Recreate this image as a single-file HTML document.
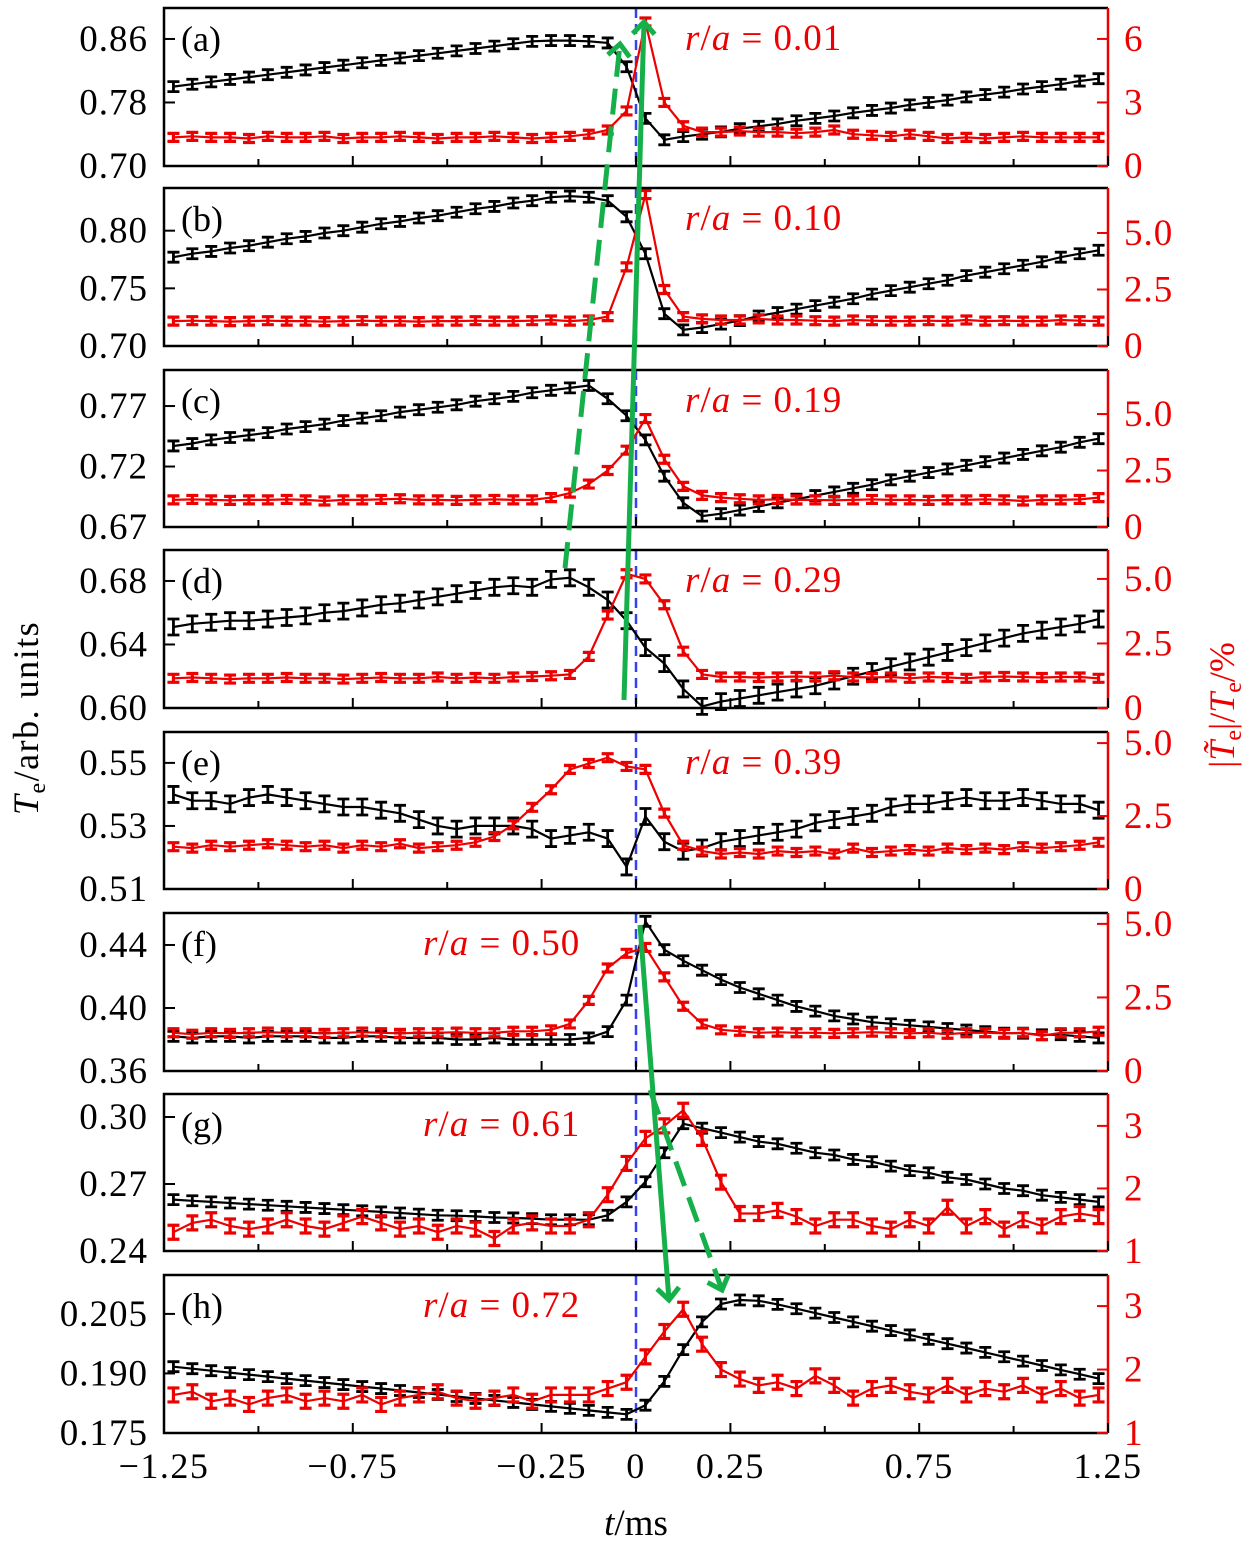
<!DOCTYPE html>
<html><head><meta charset="utf-8"><style>
body{margin:0;background:#fff}
svg text{font-family:"Liberation Serif","DejaVu Serif",serif}
</style></head><body>
<svg id="chart" width="1260" height="1551" xmlns="http://www.w3.org/2000/svg">
<g id="plots"></g>
<g id="annot">
<defs>
<marker id="ah" markerWidth="30" markerHeight="30" refX="16" refY="15" orient="auto" markerUnits="userSpaceOnUse"><path d="M4,4 L16,15 L4,26" fill="none" stroke="#16b04a" stroke-width="5"/></marker>
</defs>
<line x1="565" y1="568" x2="620" y2="44" stroke="#16b04a" stroke-width="5" stroke-dasharray="26,12" marker-end="url(#ah)"/>
<line x1="624" y1="700" x2="644" y2="22" stroke="#16b04a" stroke-width="5" marker-end="url(#ah)"/>
<line x1="640" y1="925" x2="669" y2="1300" stroke="#16b04a" stroke-width="5" marker-end="url(#ah)"/>
<line x1="650" y1="1090" x2="722" y2="1290" stroke="#16b04a" stroke-width="5" stroke-dasharray="26,12" marker-end="url(#ah)"/>
</g>
<text x="38" y="718" font-size="36" letter-spacing="1.5" text-anchor="middle" transform="rotate(-90 38 718)"><tspan font-style="italic">T</tspan><tspan font-size="24" dy="7">e</tspan><tspan dy="-7">/arb. units</tspan></text>
<text x="1234" y="705" font-size="36" fill="#e00" text-anchor="middle" transform="rotate(-90 1234 705)">|<tspan font-style="italic">T̃</tspan><tspan font-size="24" dy="7">e</tspan><tspan dy="-7">|/</tspan><tspan font-style="italic">T</tspan><tspan font-size="24" dy="7">e</tspan><tspan dy="-7">/%</tspan></text>
<text x="636" y="1535" font-size="37" text-anchor="middle"><tspan font-style="italic">t</tspan>/ms</text>
</svg>
<script>
const tStart=-1.225, tStep=0.05;
const xTicks=[-1.25,-1,-0.75,-0.5,-0.25,0,0.25,0.5,0.75,1,1.25];
const xTickLabels=["−1.25","","−0.75","","−0.25","0","0.25","","0.75","","1.25"];
const panelLabels=["(a)","(b)","(c)","(d)","(e)","(f)","(g)","(h)"];
const radii=["0.01","0.10","0.19","0.29","0.39","0.50","0.61","0.72"];
const leftTicks=[[0.70,0.78,0.86],[0.70,0.75,0.80],[0.67,0.72,0.77],[0.60,0.64,0.68],[0.51,0.53,0.55],[0.36,0.40,0.44],[0.24,0.27,0.30],[0.175,0.190,0.205]];
const leftTickLabels=[["0.70","0.78","0.86"],["0.70","0.75","0.80"],["0.67","0.72","0.77"],["0.60","0.64","0.68"],["0.51","0.53","0.55"],["0.36","0.40","0.44"],["0.24","0.27","0.30"],["0.175","0.190","0.205"]];
const rightTicks=[[0,3,6],[0,2.5,5],[0,2.5,5],[0,2.5,5],[0,2.5,5],[0,2.5,5],[1,2,3],[1,2,3]];
const rightTickLabels=[["0","3","6"],["0","2.5","5.0"],["0","2.5","5.0"],["0","2.5","5.0"],["0","2.5","5.0"],["0","2.5","5.0"],["1","2","3"],["1","2","3"]];
const teA=[0.800,0.803,0.806,0.809,0.812,0.815,0.818,0.821,0.824,0.827,0.830,0.833,0.836,0.839,0.842,0.845,0.848,0.851,0.854,0.857,0.858,0.858,0.857,0.855,0.825,0.760,0.733,0.737,0.740,0.743,0.747,0.750,0.753,0.757,0.760,0.763,0.767,0.770,0.773,0.777,0.780,0.783,0.787,0.790,0.793,0.797,0.800,0.803,0.807,0.810];
const teB=[0.777,0.780,0.782,0.785,0.787,0.790,0.793,0.795,0.798,0.800,0.803,0.806,0.808,0.811,0.813,0.816,0.819,0.821,0.824,0.826,0.829,0.830,0.829,0.826,0.812,0.780,0.728,0.714,0.716,0.719,0.722,0.726,0.729,0.732,0.735,0.738,0.741,0.745,0.748,0.751,0.754,0.757,0.761,0.764,0.767,0.770,0.773,0.777,0.780,0.783];
const teC=[0.737,0.739,0.742,0.744,0.746,0.748,0.751,0.753,0.755,0.758,0.760,0.762,0.765,0.767,0.769,0.771,0.774,0.776,0.778,0.781,0.783,0.785,0.787,0.776,0.762,0.742,0.712,0.690,0.679,0.681,0.684,0.687,0.690,0.693,0.696,0.699,0.702,0.705,0.709,0.712,0.715,0.718,0.721,0.724,0.727,0.730,0.733,0.736,0.740,0.743];
const teD=[0.651,0.653,0.654,0.655,0.655,0.656,0.657,0.658,0.660,0.661,0.663,0.665,0.666,0.668,0.670,0.672,0.674,0.676,0.677,0.676,0.681,0.682,0.676,0.668,0.655,0.638,0.628,0.612,0.601,0.604,0.606,0.608,0.610,0.612,0.614,0.617,0.620,0.623,0.626,0.629,0.632,0.635,0.638,0.641,0.644,0.647,0.649,0.651,0.653,0.656];
const teE=[0.540,0.538,0.538,0.537,0.539,0.540,0.539,0.538,0.537,0.536,0.536,0.535,0.534,0.532,0.530,0.529,0.530,0.530,0.530,0.529,0.526,0.527,0.528,0.526,0.517,0.533,0.525,0.522,0.523,0.525,0.526,0.527,0.528,0.529,0.531,0.532,0.533,0.534,0.536,0.537,0.537,0.538,0.539,0.538,0.538,0.539,0.538,0.537,0.537,0.535];
const teF=[0.382,0.381,0.382,0.382,0.381,0.382,0.382,0.382,0.381,0.381,0.382,0.382,0.381,0.381,0.381,0.380,0.380,0.381,0.380,0.380,0.380,0.380,0.381,0.385,0.405,0.455,0.437,0.430,0.424,0.418,0.413,0.409,0.405,0.401,0.398,0.395,0.393,0.391,0.390,0.389,0.388,0.387,0.386,0.385,0.384,0.384,0.383,0.383,0.382,0.381];
const teG=[0.263,0.2625,0.262,0.2615,0.261,0.2605,0.260,0.2595,0.259,0.2585,0.258,0.2575,0.257,0.2565,0.256,0.2558,0.2555,0.255,0.2548,0.2545,0.254,0.254,0.254,0.256,0.262,0.271,0.284,0.297,0.295,0.293,0.291,0.289,0.288,0.286,0.284,0.283,0.281,0.280,0.278,0.276,0.275,0.273,0.272,0.270,0.268,0.267,0.265,0.264,0.263,0.262];
const teH=[0.1917,0.1912,0.1907,0.1902,0.1897,0.1892,0.1887,0.1882,0.1877,0.1872,0.1867,0.1862,0.1857,0.1852,0.1847,0.1842,0.1837,0.1832,0.1827,0.1822,0.1817,0.1812,0.1807,0.1802,0.1797,0.182,0.188,0.196,0.203,0.2075,0.2085,0.2083,0.2074,0.2063,0.2052,0.2041,0.2030,0.2019,0.2008,0.1997,0.1986,0.1975,0.1964,0.1953,0.1942,0.1931,0.1920,0.1909,0.1898,0.1887];
const flA=[1.35,1.4,1.35,1.35,1.3,1.4,1.35,1.35,1.4,1.3,1.35,1.35,1.4,1.35,1.3,1.35,1.35,1.4,1.35,1.3,1.35,1.4,1.5,1.7,2.6,6.8,3.0,1.9,1.6,1.6,1.65,1.6,1.6,1.55,1.6,1.7,1.5,1.45,1.4,1.5,1.4,1.3,1.35,1.3,1.35,1.4,1.35,1.35,1.35,1.35];
const flB=[1.1,1.12,1.1,1.08,1.1,1.12,1.1,1.1,1.08,1.1,1.12,1.1,1.1,1.08,1.1,1.1,1.12,1.1,1.1,1.12,1.15,1.1,1.15,1.3,3.5,6.7,2.5,1.3,1.2,1.15,1.15,1.2,1.15,1.15,1.12,1.1,1.15,1.12,1.1,1.1,1.12,1.1,1.15,1.1,1.12,1.1,1.1,1.15,1.12,1.1];
const flC=[1.2,1.22,1.2,1.18,1.2,1.2,1.22,1.2,1.15,1.2,1.2,1.22,1.25,1.2,1.2,1.18,1.2,1.22,1.2,1.2,1.3,1.5,1.9,2.5,3.4,4.8,3.0,1.8,1.4,1.3,1.25,1.2,1.22,1.2,1.2,1.18,1.2,1.22,1.2,1.2,1.18,1.2,1.2,1.22,1.2,1.15,1.2,1.2,1.22,1.3];
const flD=[1.15,1.18,1.15,1.12,1.15,1.15,1.18,1.15,1.15,1.12,1.15,1.18,1.15,1.15,1.2,1.15,1.18,1.15,1.2,1.22,1.25,1.3,2.0,3.6,5.2,5.0,4.0,2.2,1.3,1.2,1.2,1.18,1.2,1.22,1.2,1.25,1.2,1.18,1.2,1.15,1.2,1.18,1.15,1.2,1.22,1.2,1.18,1.2,1.2,1.15];
const flE=[1.45,1.4,1.5,1.45,1.5,1.55,1.5,1.45,1.5,1.4,1.5,1.45,1.55,1.4,1.45,1.5,1.6,1.8,2.2,2.8,3.4,4.1,4.3,4.5,4.2,4.1,2.6,1.5,1.3,1.2,1.25,1.2,1.3,1.25,1.3,1.2,1.4,1.25,1.3,1.35,1.3,1.4,1.35,1.4,1.35,1.45,1.4,1.45,1.5,1.6];
const flF=[1.3,1.25,1.3,1.28,1.3,1.32,1.3,1.3,1.28,1.3,1.32,1.3,1.28,1.3,1.3,1.32,1.3,1.3,1.35,1.35,1.4,1.6,2.4,3.5,4.0,4.2,3.2,2.2,1.6,1.4,1.35,1.3,1.32,1.3,1.3,1.28,1.3,1.32,1.3,1.28,1.3,1.25,1.3,1.3,1.28,1.3,1.2,1.3,1.3,1.35];
const flG=[1.3,1.45,1.5,1.4,1.35,1.4,1.5,1.4,1.35,1.45,1.55,1.45,1.35,1.4,1.3,1.4,1.35,1.2,1.4,1.45,1.4,1.4,1.5,1.9,2.4,2.8,3.0,3.25,2.8,2.1,1.6,1.6,1.65,1.55,1.4,1.5,1.5,1.4,1.35,1.5,1.4,1.7,1.4,1.55,1.35,1.5,1.4,1.55,1.6,1.55];
const flH=[1.6,1.65,1.5,1.55,1.45,1.55,1.6,1.5,1.55,1.5,1.6,1.45,1.55,1.6,1.65,1.55,1.5,1.55,1.6,1.5,1.6,1.6,1.6,1.7,1.8,2.2,2.6,2.95,2.4,2.0,1.85,1.75,1.8,1.7,1.9,1.75,1.55,1.7,1.75,1.65,1.6,1.75,1.6,1.7,1.65,1.75,1.6,1.7,1.55,1.6];
const teSeries=[teA,teB,teC,teD,teE,teF,teG,teH];
const flSeries=[flA,flB,flC,flD,flE,flF,flG,flH];
// layout (not data)
const X0=164,X1=1108,T0=-1.25,T1=1.25;
const tops=[8,188,370,550,732,913,1094,1275];
const bots=[166,346,527,708,889,1071,1251,1433];
const lDom=[[0.70,0.899],[0.70,0.837],[0.67,0.7998],[0.60,0.6995],[0.51,0.5598],[0.36,0.4603],[0.24,0.3103],[0.175,0.2148]];
const rDom=[[0,7.46],[0,6.99],[0,6.95],[0,6.12],[0,5.38],[0,5.37],[1,3.51],[1,3.49]];
const radX=[685,685,685,685,685,423,423,423];
const NS="http://www.w3.org/2000/svg";
const root=document.getElementById('plots');
function mk(tag,attrs,parent){const e=document.createElementNS(NS,tag);for(const k in attrs)e.setAttribute(k,attrs[k]);parent.appendChild(e);return e;}
function xs(t){return X0+(t-T0)/(T1-T0)*(X1-X0);}
for(let p=0;p<8;p++){
  const top=tops[p],bot=bots[p];
  const yl=v=>bot-(v-lDom[p][0])/(lDom[p][1]-lDom[p][0])*(bot-top);
  const yr=v=>bot-(v-rDom[p][0])/(rDom[p][1]-rDom[p][0])*(bot-top);
  const g=mk('g',{},root);
  
  
  const zl=mk('line',{x1:xs(0),x2:xs(0),y1:top,y2:bot,stroke:'#3344ee','stroke-width':2.5,'stroke-dasharray':'10,6'},g);
  
  
  const drawS=(arr,ys,col,nm,eh,sw)=>{
    const sg=mk('g',{},g);
    
    
    let d='';
    arr.forEach((v,i)=>{const x=xs(tStart+i*tStep),y=ys(v);d+=(i?'L':'M')+x.toFixed(1)+','+y.toFixed(1);});
    mk('path',{d:d,fill:'none',stroke:col,'stroke-width':2.2},sg);
    arr.forEach((v,i)=>{const x=xs(tStart+i*tStep),y=ys(v);
      const e=mk('path',{d:`M${x-6},${y-eh}h12M${x},${y-eh}v${2*eh}M${x-6},${y+eh}h12`,stroke:col,'stroke-width':sw,fill:'none'},sg);
      
      
    });
  };
  drawS(teSeries[p],yl,'#000','te-series',(p>=3&&p<=4?8:5),2.8);
  drawS(flSeries[p],yr,'#e00','fluctuation-series',p>=6?7:4,3.2);
  const fr=mk('path',{d:`M${X1},${top}H${X0}V${bot}H${X1}`,fill:'none',stroke:'#000','stroke-width':2.5},g);
  
  
  const ra=mk('line',{x1:X1,x2:X1,y1:top,y2:bot,stroke:'#e00','stroke-width':2.5},g);
  
  
  xTicks.forEach((t,i)=>{const x=xs(t);
    mk('line',{x1:x,x2:x,y1:bot,y2:bot-(xTickLabels[i]===''?7:10),stroke:'#000','stroke-width':2},g);
    if(p===7&&xTickLabels[i]!==''){const tx=mk('text',{x:x,y:1478,'font-size':36,'letter-spacing':1.5,'text-anchor':'middle'},g);tx.textContent=xTickLabels[i];
      
      }
  });
  leftTicks[p].forEach((v,i)=>{const y=yl(v);
    mk('line',{x1:X0,x2:X0+11,y1:y,y2:y,stroke:'#000','stroke-width':2},g);
    const tx=mk('text',{x:148,y:y+12,'font-size':37,'letter-spacing':1,'text-anchor':'end'},g);tx.textContent=leftTickLabels[p][i];
    
    
  });
  rightTicks[p].forEach((v,i)=>{const y=yr(v);
    mk('line',{x1:X1,x2:X1-11,y1:y,y2:y,stroke:'#e00','stroke-width':2},g);
    const tx=mk('text',{x:1124,y:y+12,'font-size':37,'letter-spacing':1,fill:'#e00'},g);tx.textContent=rightTickLabels[p][i];
    
    
  });
  const pl=mk('text',{x:181,y:top+43,'font-size':36},g);pl.textContent=panelLabels[p];
  
  
  const rl=mk('text',{x:radX[p],y:top+42,'font-size':37,'letter-spacing':1,fill:'#e00'},g);
  rl.innerHTML='<tspan font-style="italic">r</tspan>/<tspan font-style="italic">a</tspan>  =  '+radii[p];
  rl.setAttribute('xml:space','preserve');
  
  
}
</script>
</body></html>
